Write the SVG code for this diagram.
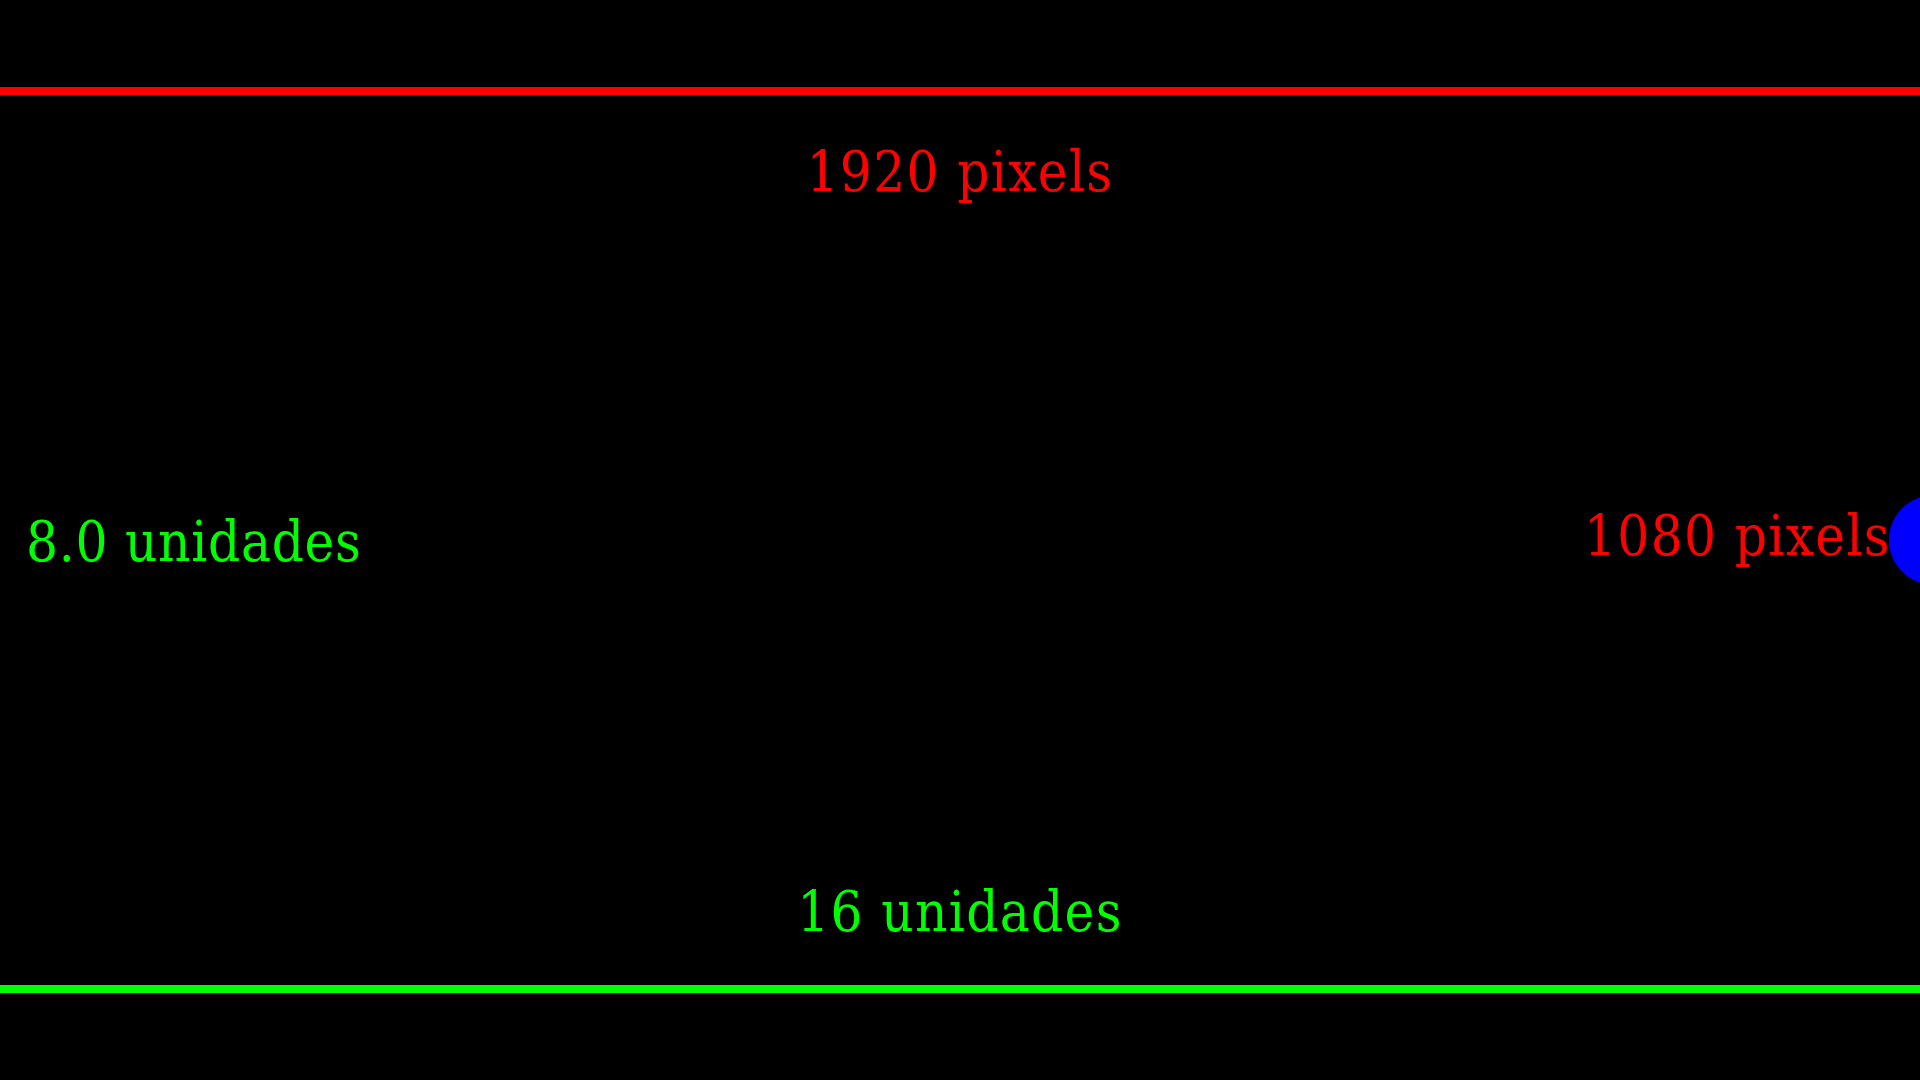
<svg xmlns="http://www.w3.org/2000/svg" width="1920" height="1080" viewBox="0 0 1920 1080">
<style>
.t{font-family:"DejaVu Serif Condensed","DejaVu Serif",serif;font-stretch:semi-condensed;font-size:56px;letter-spacing:1.3px}
.r{fill:#ff0000}
.g{fill:#00ff00}
</style>
<rect width="1920" height="1080" fill="#000"/>
<g id="lines">
<line x1="0" y1="91" x2="1920" y2="91" stroke="#ff0000" stroke-width="8"/>
<line x1="0" y1="989" x2="1920" y2="989" stroke="#00ff00" stroke-width="8"/>
</g>
<g id="dot"><circle cx="1934" cy="540" r="45" fill="#0000ff"/></g>
<g id="labels">
<text class="t r" x="960" y="191" text-anchor="middle">1920 pixels</text>
<text class="t r" x="1891" y="555" text-anchor="end">1080 pixels</text>
<text class="t g" x="26" y="561" style="letter-spacing:0.7px">8.0 unidades</text>
<text class="t g" x="960" y="931" text-anchor="middle">16 unidades</text>
</g>
</svg>
